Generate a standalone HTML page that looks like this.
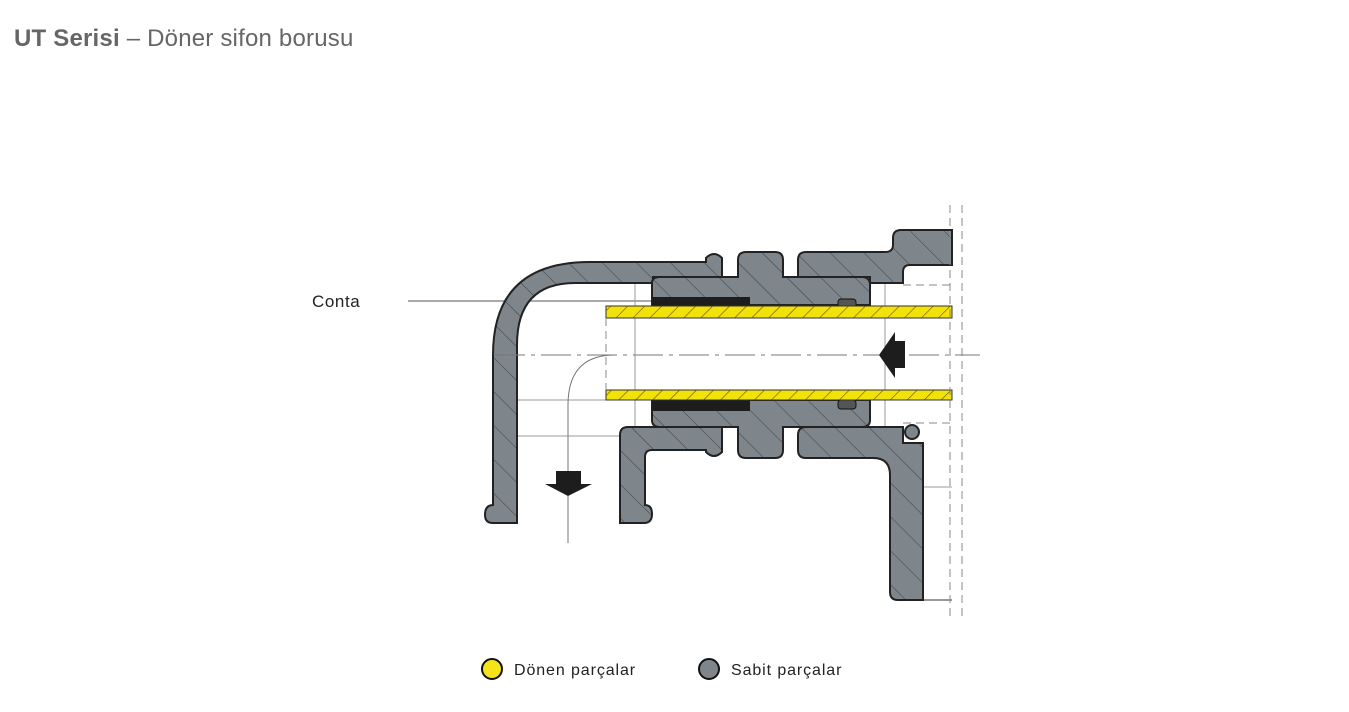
<!DOCTYPE html>
<html><head><meta charset="utf-8"><style>
body{margin:0;background:#fff;width:1349px;height:712px;overflow:hidden;font-family:"Liberation Sans",sans-serif}
.t{position:absolute;left:14px;top:25px;font-size:24px;color:#666;letter-spacing:0.2px}
svg{position:absolute;left:0;top:0}
</style></head><body>
<div class="t"><b>UT Serisi</b> – Döner sifon borusu</div>
<svg width="1349" height="712" viewBox="0 0 1349 712">
<defs>
<pattern id="h" patternUnits="userSpaceOnUse" width="24" height="24" patternTransform="rotate(-45)">
<rect width="24" height="24" fill="#7e868c"/><line x1="0" y1="0" x2="0" y2="24" stroke="#3a3f43" stroke-width="1"/></pattern>
<pattern id="y" patternUnits="userSpaceOnUse" width="12" height="12" patternTransform="rotate(45)">
<rect width="12" height="12" fill="#f3e20a"/><line x1="0" y1="0" x2="0" y2="12" stroke="#5a5200" stroke-width="1.2"/></pattern>
</defs>
<g stroke="#999" stroke-width="1" fill="none">
<line x1="408" y1="301" x2="652" y2="301" stroke="#555"/>
<line x1="495" y1="400" x2="620" y2="400"/>
<line x1="635" y1="277" x2="635" y2="432"/>
<line x1="635" y1="277" x2="870" y2="277"/>
<line x1="510" y1="436" x2="510" y2="523"/>
<line x1="510" y1="436" x2="620" y2="436"/>
<path d="M615,355 Q568,355 568,405 L568,543" stroke="#777"/>
<line x1="885" y1="277" x2="885" y2="432"/>
<line x1="918" y1="487" x2="952" y2="487"/><line x1="918" y1="487" x2="918" y2="600"/>
<line x1="923" y1="600" x2="952" y2="600" stroke="#333"/>
</g>
<g stroke="#222" stroke-width="2" fill="url(#h)">
<path d="M485,515 Q485,505 493,505 L493,355 Q493,262 590,262 L706,262 L706,258 Q714,250 722,258 L722,277 L653,277 L653,283 L575,283 Q517,283 517,345 L517,523 L493,523 Q485,523 485,515 Z"/>
<path d="M620,523 L620,435 Q620,427 628,427 L722,427 L722,452 Q714,460 706,452 L706,450 L652,450 Q645,450 645,457 L645,505 Q652,505 652,514 Q652,523 644,523 Z"/>
<path d="M652,283 Q652,277 660,277 L738,277 L738,260 Q738,252 746,252 L775,252 Q783,252 783,260 L783,277 L862,277 Q870,277 870,285 L870,305 L652,305 Z"/>
<path d="M652,400 L870,400 L870,420 Q870,427 862,427 L783,427 L783,450 Q783,458 775,458 L746,458 Q738,458 738,450 L738,427 L660,427 Q652,427 652,420 Z"/>
<path d="M798,260 Q798,252 806,252 L885,252 Q893,252 893,245 L893,238 Q893,230 901,230 L952,230 L952,265 L910,265 Q903,265 903,272 L903,283 L870,283 L870,277 L798,277 Z"/>
<path d="M798,435 Q798,427 806,427 L903,427 L903,443 L923,443 L923,600 L898,600 Q890,600 890,592 L890,475 Q890,458 873,458 L806,458 Q798,458 798,450 Z"/>
</g>
<circle cx="912" cy="432" r="7" fill="#7e868c" stroke="#222" stroke-width="2"/>
<g fill="#1d1d1d">
<rect x="652" y="297" width="98" height="11"/>
<rect x="652" y="400" width="98" height="11"/>
<rect x="838" y="299" width="18" height="9" rx="3" stroke="#111" fill="#555"/>
<rect x="838" y="400" width="18" height="9" rx="3" stroke="#111" fill="#555"/>
</g>
<g stroke="#333" stroke-width="1" fill="url(#y)">
<rect x="606" y="306" width="346" height="12"/>
<rect x="606" y="390" width="346" height="10"/>
</g>
<g stroke="#888" stroke-width="1" fill="none" stroke-dasharray="8,5">
<line x1="606" y1="318" x2="606" y2="390"/>
<line x1="950" y1="205" x2="950" y2="620"/>
<line x1="962" y1="205" x2="962" y2="620"/>
<line x1="903" y1="285" x2="952" y2="285"/>
<line x1="903" y1="423" x2="952" y2="423"/>
</g>
<line x1="495" y1="355" x2="980" y2="355" stroke="#777" stroke-width="1" stroke-dasharray="30,6,4,6"/>
<path d="M879,355 L895,332 L895,341 L905,341 L905,368 L895,368 L895,378 Z" fill="#1d1d1d"/>
<path d="M545,484 L556,484 L556,471 L581,471 L581,484 L592,484 L568,496 Z" fill="#1d1d1d"/>
<text x="312" y="307" font-size="17" letter-spacing="0.6" fill="#222">Conta</text>
<circle cx="492" cy="669" r="10" fill="#f5e41a" stroke="#111" stroke-width="2"/>
<text x="514" y="675" font-size="16" letter-spacing="0.9" fill="#222">Dönen parçalar</text>
<circle cx="709" cy="669" r="10" fill="#7e868c" stroke="#111" stroke-width="2"/>
<text x="731" y="675" font-size="16" letter-spacing="0.9" fill="#222">Sabit parçalar</text>
</svg>
</body></html>
